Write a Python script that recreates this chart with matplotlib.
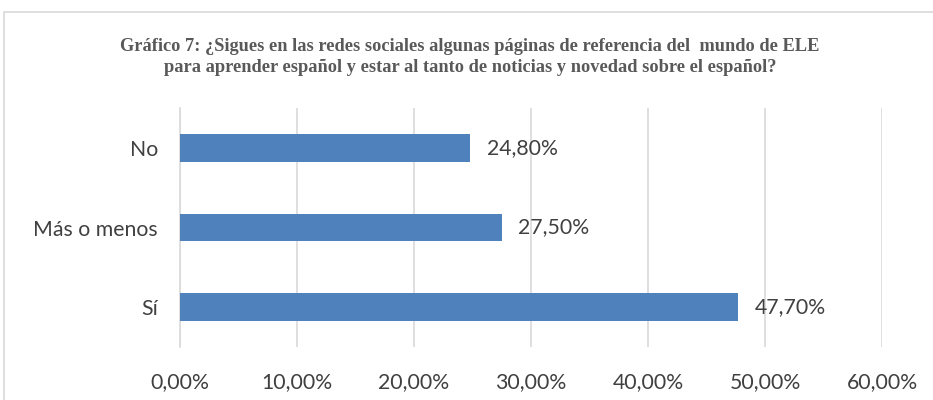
import matplotlib
matplotlib.use("Agg")
import matplotlib.pyplot as plt
from matplotlib.patches import Rectangle

categories = ["Sí", "Más o menos", "No"]
values = [47.7, 27.5, 24.8]
value_labels = ["47,70%", "27,50%", "24,80%"]
xticks = [0, 10, 20, 30, 40, 50, 60]
xtick_labels = ["0,00%", "10,00%", "20,00%", "30,00%", "40,00%", "50,00%", "60,00%"]
title = ("Gráfico 7: ¿Sigues en las redes sociales algunas páginas de referencia del  mundo de ELE\n"
         "para aprender español y estar al tanto de noticias y novedad sobre el español?")

W, H = 933, 400
fig = plt.figure(figsize=(W / 100, H / 100), dpi=100)
fig.patch.set_facecolor("white")

# outer chart border
fig.patches.append(Rectangle((4 / W, -0.05), 1.1, 1 - 12 / H + 0.05, transform=fig.transFigure,
                             fill=False, edgecolor="#D9D9D9", linewidth=1.2))

left, right = 180, 882
top, bottom = 108, 347
ax = fig.add_axes([left / W, 1 - bottom / H, (right - left) / W, (bottom - top) / H])
ypos = range(len(categories))
ax.barh(ypos, values, height=0.35, color="#4F81BD", zorder=3)
ax.set_xlim(0, 60)
ax.set_ylim(-0.5, len(categories) - 0.5)
ax.set_xticks(xticks)
ax.set_xticklabels(xtick_labels)
ax.set_yticks(list(ypos))
ax.set_yticklabels(categories)
font = "Lato"
fs = 15.3
for lab in ax.get_xticklabels() + ax.get_yticklabels():
    lab.set_fontfamily(font)
    lab.set_fontsize(fs)
    lab.set_color("#404040")
ax.tick_params(axis="both", length=0)
ax.tick_params(axis="x", pad=18)
ax.tick_params(axis="y", pad=16)
ax.grid(axis="x", color="#D9D9D9", linewidth=1.2, zorder=0)
for s in ["top", "right", "bottom"]:
    ax.spines[s].set_visible(False)
ax.spines["left"].set_color("#D9D9D9")
ax.spines["left"].set_linewidth(1.2)

for y, v, t in zip(ypos, values, value_labels):
    ax.text(v + 1.4, y, t, va="center", ha="left", fontsize=fs, family=font, color="#404040")

fig.text(470 / W, 1 - 57 / H, title, ha="center", va="center", family="Liberation Serif",
         fontweight="bold", fontsize=13.2, color="#595959", linespacing=1.28)

fig.savefig("out.png", dpi=100)
